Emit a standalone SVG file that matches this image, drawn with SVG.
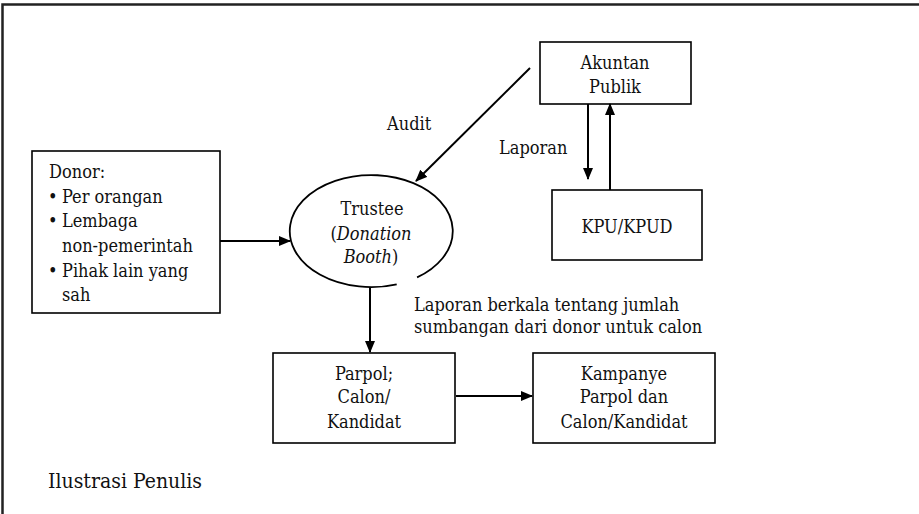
<svg xmlns="http://www.w3.org/2000/svg" width="919" height="514" viewBox="0 0 919 514">
<style>
text{font-family:"DejaVu Serif Condensed","DejaVu Serif",serif;font-stretch:condensed;font-size:18px;fill:#111}
.c{text-anchor:middle}
.box{fill:#fff;stroke:#000;stroke-width:1.6}
.ln{fill:none;stroke:#000;stroke-width:2}
</style>
<defs>
<marker id="ah" viewBox="0 0 12 10" refX="11" refY="5" markerWidth="12" markerHeight="10" markerUnits="userSpaceOnUse" orient="auto">
<path d="M0,0 L12,5 L0,10 z" fill="#000"/>
</marker>
</defs>
<rect width="919" height="514" fill="#fff"/>
<path d="M2.5,514 V4.5 H919" fill="none" stroke="#222" stroke-width="2.5"/>
<g id="akuntan">
<rect class="box" x="540" y="42" width="151" height="62"/>
<text class="c" x="615" y="69">Akuntan</text>
<text class="c" x="615" y="93">Publik</text>
</g>
<g id="kpu">
<rect class="box" x="552" y="190" width="150" height="70"/>
<text class="c" x="627" y="233">KPU/KPUD</text>
</g>
<g id="donor">
<rect class="box" x="32" y="151" width="188" height="162"/>
<text x="49" y="178">Donor:</text>
<text x="48" y="203">• <tspan x="62">Per orangan</tspan></text>
<text x="48" y="227">• <tspan x="62">Lembaga</tspan></text>
<text x="62" y="252">non-pemerintah</text>
<text x="48" y="277">• <tspan x="62">Pihak lain yang</tspan></text>
<text x="62" y="301">sah</text>
</g>
<g id="trustee">
<path d="M396.7,284.3 A81.5,56 0 1 1 417.1,277.4" fill="none" stroke="#000" stroke-width="1.8"/>
<text class="c" x="372" y="215">Trustee</text>
<text class="c" x="371" y="240">(<tspan font-style="italic">Donation</tspan></text>
<text class="c" x="371" y="263"><tspan font-style="italic">Booth</tspan>)</text>
</g>
<g id="parpol">
<rect class="box" x="273" y="353" width="182" height="90"/>
<text class="c" x="364" y="380">Parpol;</text>
<text class="c" x="364" y="403">Calon/</text>
<text class="c" x="364" y="428">Kandidat</text>
</g>
<g id="kampanye">
<rect class="box" x="533" y="353" width="182" height="90"/>
<text class="c" x="624" y="380">Kampanye</text>
<text class="c" x="624" y="403">Parpol dan</text>
<text class="c" x="624" y="428">Calon/Kandidat</text>
</g>
<g id="connectors">
<line class="ln" x1="530" y1="68" x2="416" y2="181" marker-end="url(#ah)"/>
<line class="ln" x1="588" y1="104" x2="588" y2="179" marker-end="url(#ah)"/>
<line class="ln" x1="610" y1="190" x2="610" y2="104" marker-end="url(#ah)"/>
<line class="ln" x1="220" y1="241" x2="290" y2="241" marker-end="url(#ah)"/>
<line class="ln" x1="370" y1="287" x2="370" y2="352" marker-end="url(#ah)"/>
<line class="ln" x1="456" y1="396" x2="532" y2="396" marker-end="url(#ah)"/>
</g>
<g id="labels">
<text x="387" y="130">Audit</text>
<text x="499" y="154">Laporan</text>
<text x="414" y="311">Laporan berkala tentang jumlah</text>
<text x="414" y="333">sumbangan dari donor untuk calon</text>
<text x="48" y="488" style="font-size:21px">Ilustrasi Penulis</text>
</g>
</svg>
